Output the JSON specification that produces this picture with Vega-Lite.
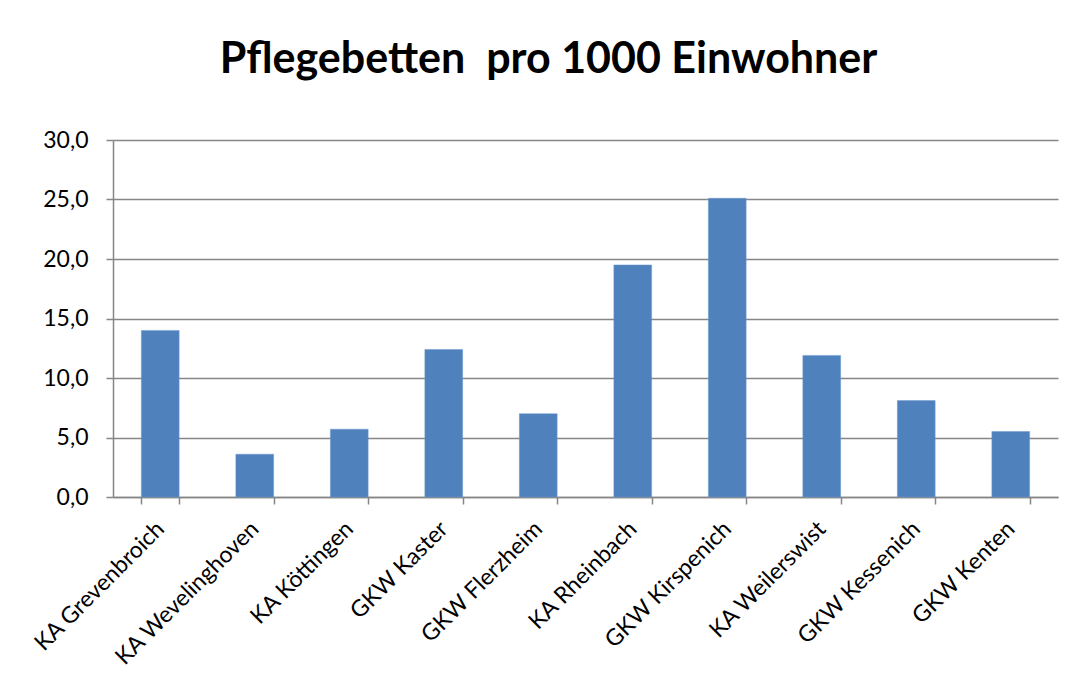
{
  "$schema": "https://vega.github.io/schema/vega-lite/v6.json",
  "autosize": "none",
  "width": 945,
  "height": 357,
  "padding": {"left": 113, "top": 140, "right": 18, "bottom": 198},
  "background": "white",
  "title": {
    "text": "Pflegebetten\u00a0 pro 1000 Einwohner",
    "font": "Lato",
    "fontSize": 43,
    "fontWeight": "bold",
    "color": "#000000",
    "anchor": "middle",
    "dx": -37,
    "offset": 47
  },
  "data": {
    "values": [
      {"Anlage": "KA Grevenbroich", "Wert": 14.0},
      {"Anlage": "KA Wevelinghoven", "Wert": 3.6},
      {"Anlage": "KA Köttingen", "Wert": 5.7},
      {"Anlage": "GKW Kaster", "Wert": 12.4},
      {"Anlage": "GKW Flerzheim", "Wert": 7.0},
      {"Anlage": "KA Rheinbach", "Wert": 19.5},
      {"Anlage": "GKW Kirspenich", "Wert": 25.1},
      {"Anlage": "KA Weilerswist", "Wert": 11.9},
      {"Anlage": "GKW Kessenich", "Wert": 8.1},
      {"Anlage": "GKW Kenten", "Wert": 5.5}
    ]
  },
  "mark": {"type": "bar", "color": "#4F81BD", "stroke": "#6F9AD0", "strokeWidth": 0.5},
  "encoding": {
    "x": {
      "field": "Anlage",
      "type": "nominal",
      "sort": null,
      "title": null,
      "scale": {"paddingInner": 0.6, "paddingOuter": 0.3},
      "axis": {
        "labelAngle": -45,
        "labelAlign": "right",
        "labelBaseline": "middle",
        "labelFont": "Lato",
        "labelFontSize": 23,
        "labelColor": "#000000",
        "labelPadding": 21,
        "labelLimit": 300,
        "domainColor": "#868686",
        "domainWidth": 1.5,
        "tickColor": "#868686",
        "tickWidth": 1.5,
        "tickSize": 7,
        "tickBand": "extent",
        "grid": false
      }
    },
    "y": {
      "field": "Wert",
      "type": "quantitative",
      "title": null,
      "scale": {"domain": [0, 30], "nice": false},
      "axis": {
        "values": [0, 5, 10, 15, 20, 25, 30],
        "labelExpr": "replace(format(datum.value, '.1f'), '.', ',')",
        "labelFont": "Lato",
        "labelFontSize": 23,
        "labelColor": "#000000",
        "labelPadding": 18,
        "domainColor": "#868686",
        "domainWidth": 1.5,
        "tickColor": "#868686",
        "tickWidth": 1.5,
        "tickSize": 7,
        "gridColor": "#868686",
        "gridWidth": 1.5,
        "gridOpacity": 1
      }
    }
  },
  "config": {"view": {"stroke": null}}
}
